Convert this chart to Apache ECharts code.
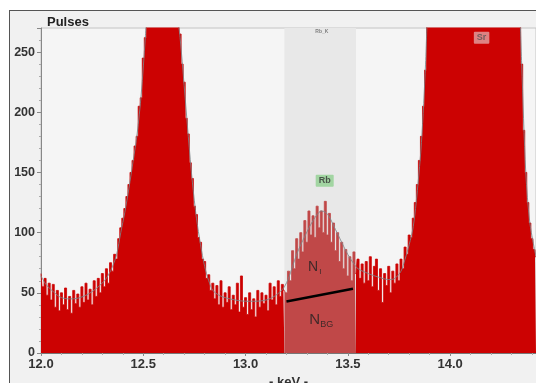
<!DOCTYPE html>
<html><head><meta charset="utf-8">
<script src="https://cdn.jsdelivr.net/npm/echarts@6/dist/echarts.min.js"></script>
<style>
html,body{margin:0;padding:0;background:#fff;overflow:hidden;}
#frame{position:absolute;left:9px;top:10px;width:600px;height:400px;border:1.5px solid #555;background:#f1f1f1;box-sizing:border-box;}
#chart{position:absolute;left:0;top:0;width:536px;height:383px;}
</style></head><body>
<div id="frame"></div><div id="chart"></div>
<script>
// Spectrum channels: 12.00 keV .. 14.42 keV, 0.01 keV per channel
const keVStart = 12.00;
const keVStep = 0.01;
const counts = [
  66, 55, 62, 48, 58, 44, 57, 38, 52, 35,
  50, 40, 54, 36, 47, 33, 52, 41, 49, 38,
  55, 42, 58, 44, 53, 40, 60, 47, 62, 50,
  66, 55, 70, 58, 75, 68, 82, 78, 95, 104,
  112, 120, 130, 140, 150, 160, 172, 180, 205, 212,
  245, 262, 290, 305, 320, 335, 345, 352, 355, 352,
  345, 335, 325, 312, 300, 292, 285, 276, 265, 240,
  225, 195, 182, 158, 145, 122, 115, 96, 92, 78,
  76, 62, 65, 52, 58, 45, 56, 40, 60, 38,
  50, 42, 55, 36, 48, 40, 58, 34, 64, 38,
  46, 32, 50, 36, 45, 30, 52, 38, 50, 41,
  48, 35, 58, 44, 55, 40, 60, 47, 57, 52,
  50, 68, 60, 85, 70, 95, 78, 100, 84, 110,
  92, 118, 98, 114, 96, 122, 104, 118, 100, 126,
  98, 116, 92, 108, 85, 100, 76, 92, 70, 86,
  64, 80, 60, 84, 66, 78, 62, 74, 58, 76,
  60, 80, 55, 72, 78, 52, 70, 42, 66, 56,
  72, 50, 68, 58, 74, 60, 78, 70, 88, 82,
  98, 96, 112, 125, 140, 160, 180, 205, 235, 275,
  310, 340, 370, 400, 430, 460, 480, 500, 510, 515,
  520, 525, 530, 540, 560, 590, 620, 650, 680, 700,
  720, 730, 735, 730, 720, 700, 680, 650, 620, 590,
  560, 530, 500, 470, 440, 410, 385, 360, 340, 320,
  305, 295, 288, 284, 280, 240, 185, 150, 125, 108,
  95, 86, 80
];
// Rb region of interest (keV)
const roiRange = [13.19, 13.54];
// Fitted curve (keV, pulses); null = above the visible range
const fitCurve = [
  [12.00,64],[12.02,58],[12.04,54],[12.06,51],[12.08,48],[12.10,46],[12.13,45],[12.16,45],
  [12.19,46],[12.22,48],[12.25,51],[12.28,55],[12.31,60],[12.33,65],[12.35,72],[12.37,82],
  [12.39,100],[12.41,117],[12.43,137],[12.45,159],[12.47,182],[12.49,215],[12.51,262],[12.52,290],
  [12.59,null],
  [12.67,276],[12.68,262],[12.70,222],[12.72,180],[12.74,142],[12.76,112],[12.78,90],[12.80,72],
  [12.82,60],[12.84,52],[12.87,48],[12.90,46],[12.95,44],[13.00,43],[13.05,43],[13.10,44],
  [13.14,47],[13.17,51],[13.19,55],[13.21,62],[13.23,72],[13.25,82],[13.27,90],[13.29,97],
  [13.31,104],[13.33,110],[13.35,115],[13.37,118],[13.39,117],[13.41,113],[13.43,106],[13.45,99],
  [13.47,92],[13.49,85],[13.51,79],[13.53,74],[13.55,70],[13.60,66],[13.65,63],[13.70,61],
  [13.73,62],[13.76,68],[13.78,78],[13.80,90],[13.82,105],[13.84,135],[13.86,175],[13.88,240],[13.89,290],
  [14.12,null],
  [14.34,290],[14.35,240],[14.37,150],[14.39,108],[14.42,80]
];
// Background line under the Rb peak
const bgLine = [[13.20, 42.7], [13.525, 53.3]];
// Tick labels
const xTickValues = [12.0, 12.5, 13.0, 13.5, 14.0];
const yTickValues = [0, 50, 100, 150, 200, 250];

const pts = counts.map((c, i) => [+(keVStart + i * keVStep).toFixed(2), c]);
const eps = 1e-6;
const leftPts = pts.filter(p => p[0] <= roiRange[0] + eps);
const roiPts = pts.filter(p => p[0] >= roiRange[0] - eps && p[0] <= roiRange[1] + eps);
const rightPts = pts.filter(p => p[0] >= roiRange[1] - eps);

const RED = '#cc0202';
const ROI_RED = '#c04848';
const FONT = 'Liberation Sans, Arial, sans-serif';

function histSeries(name, data, color) {
  return {
    name, type: 'line', data, step: 'middle', symbol: 'none', z: 3,
    lineStyle: { color, width: 0.8 },
    areaStyle: { color, opacity: 1 },
    clip: true, silent: true, animation: false
  };
}

const chart = echarts.init(document.getElementById('chart'), null, { renderer: 'canvas' });
chart.setOption({
  backgroundColor: 'transparent',
  animation: false,
  title: {
    text: 'Pulses', left: 42, top: 11,
    textStyle: { fontFamily: FONT, fontSize: 13, fontWeight: 'bold', color: '#222' }
  },
  grid: {
    left: 41, top: 28, right: 0, bottom: 30,
    show: true, backgroundColor: '#f5f5f5', borderColor: '#c4c4c4', borderWidth: 1,
    containLabel: false, outerBoundsMode: 'none'
  },
  xAxis: {
    type: 'value', min: 12.0, max: 14.42, interval: 0.5,
    name: '- keV -', nameLocation: 'middle', nameGap: 21,
    nameTextStyle: { fontFamily: FONT, fontSize: 13, fontWeight: 'bold', color: '#333' },
    axisLine: { show: true, lineStyle: { color: '#777', width: 1 } },
    axisTick: { show: true, length: 3, lineStyle: { color: '#888' } },
    minorTick: { show: true, splitNumber: 5, length: 2, lineStyle: { color: '#aaa' } },
    splitLine: { show: false },
    axisLabel: {
      margin: 5, showMaxLabel: false, fontFamily: FONT, fontSize: 13, fontWeight: 'bold', color: '#333',
      formatter: v => xTickValues.some(t => Math.abs(t - v) < 1e-6) ? v.toFixed(1) : ''
    }
  },
  yAxis: {
    type: 'value', min: 0, max: 270, interval: 50,
    axisLine: { show: true, lineStyle: { color: '#888', width: 1 } },
    axisTick: { show: true, length: 4, lineStyle: { color: '#888' } },
    minorTick: { show: true, splitNumber: 5, length: 2, lineStyle: { color: '#aaa' } },
    splitLine: { show: false },
    axisLabel: {
      margin: 6, showMaxLabel: false, fontFamily: FONT, fontSize: 12.5, fontWeight: 'bold', color: '#333',
      formatter: v => yTickValues.indexOf(v) >= 0 ? String(v) : ''
    }
  },
  series: [
    {
      name: 'ROI band', type: 'line', data: [[roiRange[0], 0]], symbol: 'none', z: 1,
      lineStyle: { width: 0 }, silent: true,
      markArea: {
        silent: true,
        itemStyle: { color: '#e8e8e8' },
        data: [[{ xAxis: roiRange[0] }, { xAxis: roiRange[1] }]]
      }
    },
    histSeries('spectrum left', leftPts, RED),
    histSeries('spectrum Rb', roiPts, ROI_RED),
    histSeries('spectrum right', rightPts, RED),
    {
      name: 'fit', type: 'line', data: fitCurve, smooth: 0.3, symbol: 'none', z: 4,
      connectNulls: false, clip: true, silent: true,
      lineStyle: { color: '#7d8589', width: 1, opacity: 0.85 }
    },
    {
      name: 'background', type: 'line', data: bgLine, symbol: 'none', z: 5, silent: true,
      lineStyle: { color: '#000', width: 2.5 }
    },
    {
      name: 'labels', type: 'scatter', symbolSize: 0, z: 6, silent: true, clip: false,
      label: { show: true, position: 'inside', fontFamily: FONT },
      data: [
        { value: [13.338, 71], label: {
            formatter: '{n|N}{s|I}',
            rich: { n: { fontSize: 14, color: '#222', fontFamily: FONT },
                    s: { fontSize: 8, color: '#222', fontFamily: FONT, padding: [9, 0, 0, 1] } } } },
        { value: [13.37, 27.5], label: {
            formatter: '{n|N}{s|BG}',
            rich: { n: { fontSize: 15, color: '#222', fontFamily: FONT },
                    s: { fontSize: 9, color: '#222', fontFamily: FONT, padding: [9, 0, 0, 0] } } } },
        { value: [13.387, 143], label: {
            formatter: 'Rb', fontSize: 9, fontWeight: 'bold', color: '#333',
            backgroundColor: '#90d090', padding: [2, 3, 1, 3], borderRadius: 1 } },
        { value: [14.154, 262], label: {
            formatter: 'Sr', fontSize: 9, fontWeight: 'bold', color: '#555',
            backgroundColor: '#e2a4a4', padding: [2, 3, 1, 3], borderRadius: 1 } },
        { value: [13.373, 267], label: {
            formatter: 'Rb_K', fontSize: 5, fontWeight: 'bold', color: '#666' } }
      ]
    }
  ]
});
</script>
</body></html>
